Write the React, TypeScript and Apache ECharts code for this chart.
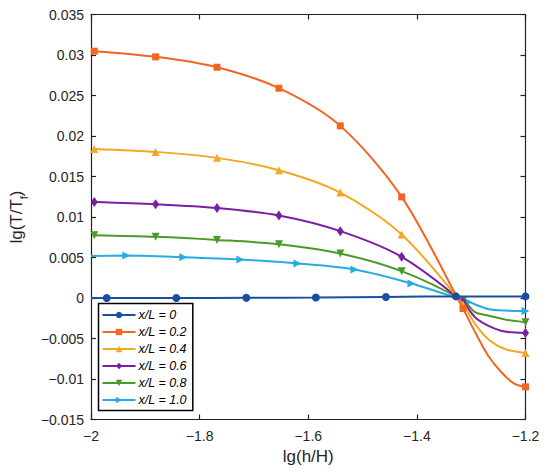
import React, { useEffect, useRef } from "react";
import * as echarts from "echarts";

const seriesNames = ["x/L = 0", "x/L = 0.2", "x/L = 0.4", "x/L = 0.6", "x/L = 0.8", "x/L = 1.0"];

// marker positions (x) per series
const blueMarkX = [-1.971, -1.843, -1.714, -1.586, -1.457, -1.328, -1.2];
const gridMarkX = [-1.994, -1.881, -1.768, -1.654, -1.541, -1.428, -1.315, -1.2];
const cyanMarkX = [-1.935, -1.83, -1.725, -1.62, -1.515, -1.41, -1.305, -1.2];

// marker values
const blueMarkY = [0.0, 0.0, 0.00002, 0.00006, 0.00013, 0.0002, 0.0002];
const orangeMarkY = [0.03047, 0.02977, 0.02849, 0.0259, 0.02125, 0.01248, -0.0013, -0.01097];
const yellowMarkY = [0.01841, 0.01804, 0.0173, 0.01578, 0.01302, 0.00784, -0.0008, -0.00678];
const purpleMarkY = [0.01186, 0.01158, 0.01112, 0.01018, 0.00825, 0.00508, -0.0005, -0.00431];
const greenMarkY = [0.00775, 0.00755, 0.00717, 0.00664, 0.00549, 0.00331, -0.0003, -0.00299];
const cyanMarkY = [0.00524, 0.00504, 0.00475, 0.00426, 0.00352, 0.00179, -0.00048, -0.00159];

// extra curve points (no marker)
const blueCurve = [[-2, 0.0]];
const orangeCurve = [[-1.293, -0.0042], [-1.269, -0.0071], [-1.244, -0.0092], [-1.22, -0.0106]];
const yellowCurve = [[-1.293, -0.0032], [-1.269, -0.00505], [-1.238, -0.0063]];
const purpleCurve = [[-1.293, -0.00237], [-1.269, -0.0034], [-1.238, -0.00414]];
const greenCurve = [[-1.293, -0.00175], [-1.269, -0.00216], [-1.238, -0.00265]];
const cyanCurve = [[-2, 0.0052], [-1.269, -0.00135], [-1.238, -0.00155]];

const colors = ["#1A4FA0", "#F26522", "#F5A623", "#7B1FA2", "#4A9A2A", "#2AAAE2"];
const FONT = "'Liberation Sans', Arial, Helvetica, sans-serif";

const minus = (s: string) => s.replace(/-/g, "\u2212");

function buildData(mx: number[], my: number[], extra: number[][]) {
  const pts: any[] = [];
  mx.forEach((x, i) => pts.push({ value: [x, my[i]] }));
  extra.forEach((p) => pts.push({ value: [p[0], p[1]], symbol: "none" }));
  pts.sort((a, b) => a.value[0] - b.value[0]);
  return pts;
}

export default function App() {
  const ref = useRef<HTMLDivElement>(null);
  useEffect(() => {
    const chart = echarts.init(ref.current!, null, { renderer: "svg" });
    const defs = [
      { mx: blueMarkX, my: blueMarkY, ex: blueCurve, symbol: "circle", size: 8 },
      { mx: gridMarkX, my: orangeMarkY, ex: orangeCurve, symbol: "rect", size: 7 },
      { mx: gridMarkX, my: yellowMarkY, ex: yellowCurve, symbol: "triangle", size: 8 },
      { mx: gridMarkX, my: purpleMarkY, ex: purpleCurve, symbol: "diamond", size: [7, 10] },
      { mx: gridMarkX, my: greenMarkY, ex: greenCurve, symbol: "path://M0,0 L10,0 L5,9 Z", size: 8 },
      { mx: cyanMarkX, my: cyanMarkY, ex: cyanCurve, symbol: "path://M0,0 L9,5 L0,10 Z", size: 8 },
    ];
    const series = defs.map((d, i) => ({
      name: seriesNames[i],
      type: "line",
      data: buildData(d.mx, d.my, d.ex),
      smooth: 0.3,
      symbol: d.symbol,
      symbolSize: d.size,
      showSymbol: true,
      lineStyle: { color: colors[i], width: 2 },
      itemStyle: { color: colors[i], borderWidth: 0 },
      z: 10 - i,
    }));
    const axisLine = { show: true, onZero: false, lineStyle: { color: "#222", width: 1.2 } };
    const tickStyle = { show: true, inside: true, length: 5, lineStyle: { color: "#222", width: 1.2 } };
    const labelStyle = { fontFamily: FONT, fontSize: 14, color: "#262626" };
    chart.setOption({
      animation: false,
      backgroundColor: "#fff",
      grid: { left: 91, right: 24.5, top: 14.5, bottom: 56.5, containLabel: false },
      legend: {
        orient: "vertical",
        left: 98.5,
        top: 303.5,
        itemWidth: 33,
        itemHeight: 8,
        itemGap: 2,
        padding: [4, 6, 3, 3],
        borderColor: "#000",
        borderWidth: 1.5,
        backgroundColor: "#fff",
        textStyle: { fontFamily: FONT, fontSize: 12.5, fontStyle: "italic", color: "#000", lineHeight: 15, padding: [0, 0, 0, -2] },
        data: seriesNames,
      },
      xAxis: [
        {
          type: "value",
          min: -2,
          max: -1.2,
          interval: 0.2,
          position: "bottom",
          name: "lg(h/H)",
          nameLocation: "middle",
          nameGap: 28,
          nameTextStyle: { fontFamily: FONT, fontSize: 17, color: "#262626" },
          axisLine,
          axisTick: tickStyle,
          splitLine: { show: false },
          axisLabel: { ...labelStyle, margin: 9, formatter: (v: number) => minus(String(parseFloat(v.toFixed(4)))) },
        },
        {
          type: "value",
          min: -2,
          max: -1.2,
          interval: 0.2,
          position: "top",
          axisLine,
          axisTick: tickStyle,
          splitLine: { show: false },
          axisLabel: { show: false },
        },
      ],
      yAxis: [
        {
          type: "value",
          min: -0.015,
          max: 0.035,
          interval: 0.005,
          position: "left",
          name: "{a|lg(T/T}{s|f}{a|)}",
          nameLocation: "middle",
          nameGap: 48,
          nameRotate: 90,
          nameTextStyle: {
            fontFamily: FONT,
            color: "#262626",
            rich: {
              a: { fontFamily: FONT, fontSize: 17, color: "#262626", lineHeight: 26, verticalAlign: "middle" },
              s: { fontFamily: FONT, fontSize: 11, color: "#262626", lineHeight: 11, verticalAlign: "bottom" },
            },
          },
          axisLine,
          axisTick: tickStyle,
          splitLine: { show: false },
          axisLabel: { ...labelStyle, margin: 7, formatter: (v: number) => minus(String(parseFloat(v.toFixed(4)))) },
        },
        {
          type: "value",
          min: -0.015,
          max: 0.035,
          interval: 0.005,
          position: "right",
          axisLine,
          axisTick: tickStyle,
          splitLine: { show: false },
          axisLabel: { show: false },
        },
      ],
      series,
    });
    return () => chart.dispose();
  }, []);
  return (
    <div
      ref={ref}
      style={{ position: "fixed", left: 0, top: 0, width: 550, height: 476, background: "#fff" }}
    />
  );
}
